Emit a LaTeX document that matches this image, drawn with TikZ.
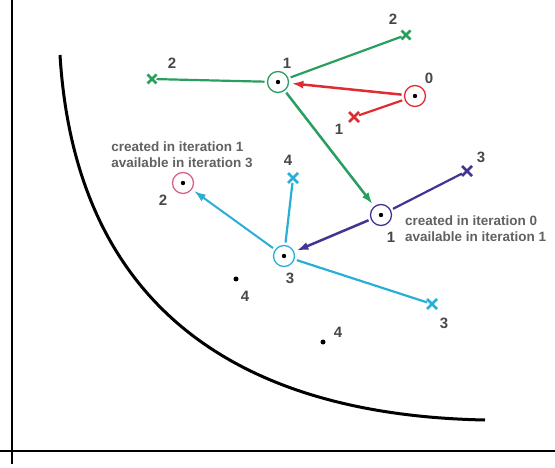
\documentclass[tikz,border=0pt]{standalone}
\usepackage{fontspec}
\setmainfont{Liberation Sans}
\usetikzlibrary{arrows.meta, shapes.misc}

\definecolor{itzero}{RGB}{222,45,50}
\definecolor{itone}{RGB}{40,158,95}
\definecolor{ittwo}{RGB}{220,95,145}
\definecolor{itthree}{RGB}{70,50,145}
\definecolor{itfour}{RGB}{40,175,215}

\begin{document}
\begin{tikzpicture}[
    x=1pt, y=-1pt,
    site/.style={draw, circle, minimum size=21pt, inner sep=0pt, line width=1.3pt, outer sep=3pt,
        path picture={\fill[black] (path picture bounding box.center) circle (2.2pt);}},
    cand/.style={draw, cross out, minimum size=6pt, inner sep=0pt, line width=2.6pt, outer sep=2pt},
    pt/.style={circle, fill=black, inner sep=0pt, minimum size=5pt},
    num/.style={font=\bfseries\fontsize{15}{15}\selectfont, text=black!72, inner sep=0pt},
    note/.style={align=left, font=\bfseries\fontsize{13.5}{16}\selectfont, text=black!62, inner sep=0pt},
    link/.style={line width=2.2pt},
    arrow/.style={line width=2.5pt, -{Latex[length=12pt, width=8pt]}}
]
\useasboundingbox (0,0) rectangle (555,468);

% axes and front
\draw[line width=2pt] (12,0) -- (12,464);
\draw[line width=2pt] (0,451) -- (555,451);
\draw[line width=3pt] (60,55) .. controls (75,300) and (230,415) .. (485,420);

% iteration 0
\node (s0) [site, itzero] at (415,96) {};
\node (s0n) [num] at (429,78) {0};
\node (x1r) [cand, itzero] at (354,117) {};
\node (x1rn) [num] at (339,129) {1};

% iteration 1
\node (s1) [site, itone] at (278,82) {};
\node (s1n) [num] at (287,63) {1};
\node (x2a) [cand, itone, minimum size=5pt] at (152,79) {};
\node (x2an) [num] at (172,63) {2};
\node (x2b) [cand, itone, minimum size=5pt] at (406,35) {};
\node (x2bn) [num] at (393,19) {2};

\node (s1b) [site, itthree] at (381,215) {};
\node (s1bn) [num] at (391,237) {1};
\node (note0) [note, anchor=west] at (405,229) {created in iteration 0\\available in iteration 1};
\node (x3b) [cand, itthree] at (467,171) {};
\node (x3bn) [num] at (481,157) {3};

% iteration 2
\node (s2) [site, ittwo] at (183,183) {};
\node (s2n) [num] at (163,200) {2};
\node (note1) [note, anchor=south] at (182,168) {created in iteration 1\\available in iteration 3};

% iteration 3
\node (s3) [site, itfour] at (284,256) {};
\node (s3n) [num] at (290,278) {3};
\node (x4c) [cand, itfour] at (293,178) {};
\node (x4cn) [num] at (288,160) {4};
\node (x3c) [cand, itfour] at (432,304) {};
\node (x3cn) [num] at (444,323) {3};

% iteration 4
\node (p4a) [pt] at (236,279) {};
\node (p4an) [num] at (245,296) {4};
\node (p4b) [pt] at (323,342) {};
\node (p4bn) [num] at (338,332) {4};

\draw[arrow, itzero] (s0) -- (s1);
\draw[link, itzero] (s0) -- (x1r);

\draw[link, itone] (s1) -- (x2a);
\draw[link, itone] (s1) -- (x2b);
\draw[arrow, itone] (s1) -- (s1b);

\draw[link, itthree] (s1b) -- (x3b);
\draw[arrow, itthree] (s1b) -- (s3);

\draw[link, itfour] (s3) -- (x4c);
\draw[link, itfour] (s3) -- (x3c);
\draw[arrow, itfour, line width=2pt] (s3) -- (s2);

\end{tikzpicture}
\end{document}
